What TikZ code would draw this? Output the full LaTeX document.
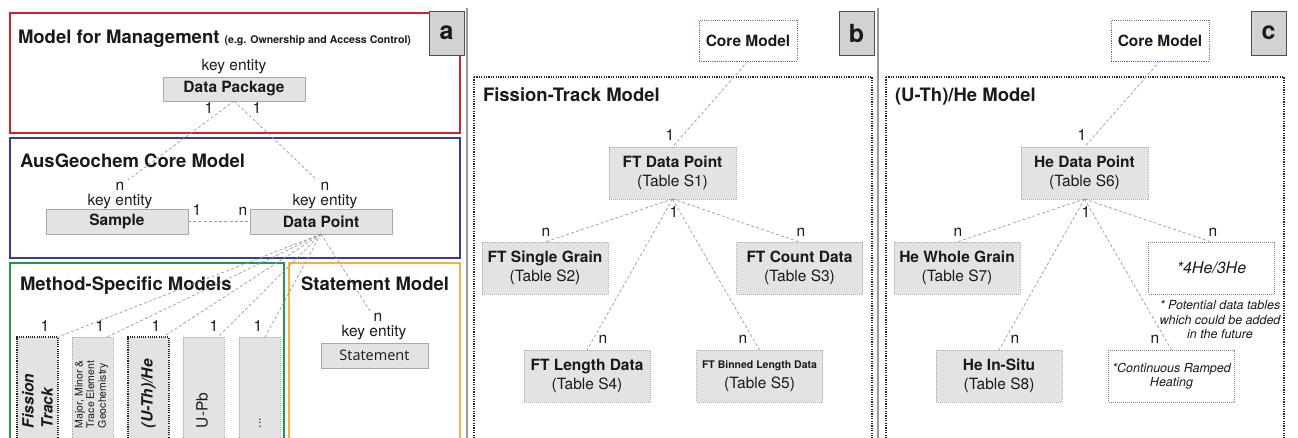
\documentclass[tikz,border=0pt]{standalone}
\usepackage{fontspec}
\setmainfont{TeX Gyre Heros}
\newfontfamily\stmtfont{Open Sans}

\definecolor{mgmtred}{HTML}{CC2229}
\definecolor{coreblue}{HTML}{3A3A9C}
\definecolor{methgreen}{HTML}{1E9A46}
\definecolor{stmtorange}{HTML}{F5B048}
\definecolor{boxfill}{HTML}{E3E3E3}
\definecolor{boxedge}{HTML}{A8A8A8}
\definecolor{linkgray}{HTML}{9A9A9A}
\definecolor{tagfill}{HTML}{D2D2D2}
\definecolor{tagedge}{HTML}{505050}
\definecolor{coremodel}{HTML}{6B5FD0}
\definecolor{inktext}{HTML}{1A1A1A}

\newcommand\FsTitle{\fontsize{18.5}{22}\selectfont\bfseries}
\newcommand\FsCard{\fontsize{15.5}{19.5}\selectfont}
\newcommand\FsNote{\fontsize{12.5}{14.5}\selectfont\itshape}

\tikzset{
  x=1pt, y=-1pt,
  every node/.style={inner sep=0pt, outer sep=0pt, text=inktext},
  boxsize/.style 2 args={minimum width=#1, minimum height=#2},
  frame/.style={line width=1.5pt},
  solidbox/.style={draw=boxedge, fill=boxfill, line width=0.8pt},
  dotbox/.style={draw=boxedge, fill=boxfill, line width=0.9pt, dash pattern=on 1pt off 1pt},
  darkdotbox/.style={draw=black!85, fill=boxfill, line width=1.1pt, dash pattern=on 1.1pt off 1.1pt},
  futurebox/.style={draw=gray, fill=white, line width=0.9pt, dash pattern=on 1pt off 1pt},
  corebox/.style={draw=coremodel, fill=white, line width=1pt, dash pattern=on 1.1pt off 1.1pt, font=\FsCard\bfseries},
  modelframe/.style={draw=black!85, line width=1.3pt, dash pattern=on 1.2pt off 1.2pt},
  link/.style={draw=linkgray, line width=0.7pt, dash pattern=on 3pt off 2.2pt},
  tag/.style={draw=tagedge, fill=tagfill, line width=1pt, boxsize={35}{44}, font=\fontsize{25}{25}\selectfont\bfseries},
  title/.style={anchor=base west, font=\FsTitle},
  lbl/.style={anchor=base, font=\FsCard},
  card/.style={align=center, font=\FsCard},
  vert/.style={rotate=90, anchor=west, align=left},
  separator/.style={draw=gray!80, line width=1.5pt}
}

\begin{document}
\begin{tikzpicture}
\useasboundingbox (0,0) rectangle (1298,437);
\clip (0,0) rectangle (1298,437);

% ---------- panel separators ----------
\draw[separator] (467,8) -- (467,440);
\draw[separator] (878,8) -- (878,440);

% ================= (a) overall model =================
\draw[frame, mgmtred]    (10,13)  rectangle (460,133);
\draw[frame, coreblue]   (10,138) rectangle (460,258);
\draw[frame, methgreen]  (10,263) rectangle (284,450);
\draw[frame, stmtorange] (289,263) rectangle (460,450);
\node[tag] (taga) at (446.5,33) {a};

% management model
\node[title] (mgmtTitle) at (18,43) {Model for Management {\fontsize{10.6}{12}\selectfont (e.g. Ownership and Access Control)}};
\node[lbl] (pkgKey) at (234,70) {key entity};
\node[solidbox, boxsize={142}{24}, font=\FsCard\bfseries] (pkg) at (234,89) {Data Package};
\node[lbl] (pkgOneL) at (209,113) {1};
\node[lbl] (pkgOneR) at (257,113) {1};

% core model
\node[title] (coreTitle) at (20,167) {AusGeochem Core Model};
\node[lbl] (sampleN) at (120,190.5) {n};
\node[lbl] (sampleKey) at (120,205) {key entity};
\node[solidbox, boxsize={142}{25}, font=\FsCard\bfseries] (sample) at (117,221.5) {Sample};
\node[lbl] (dptN) at (325,190.5) {n};
\node[lbl] (dptKey) at (325,205) {key entity};
\node[solidbox, boxsize={142}{25}, font=\FsCard\bfseries] (dpt) at (321,221.5) {Data Point};
\node[lbl] (sampleOne) at (197,215) {1};
\node[lbl] (dptNside) at (243,215) {n};

\coordinate (pkgL) at (128,180);
\coordinate (pkgR) at (315,178);
\draw[link] (pkg.south) -- (pkgL);
\draw[link] (pkg.south) -- (pkgR);
\draw[link] (sample.east) -- (dpt.west);

% method-specific models
\node[title] (methTitle) at (20,290) {Method-Specific Models};
\node[darkdotbox, boxsize={41}{108}] (m1) at (37.5,391) {};
\node[dotbox,     boxsize={41}{108}] (m2) at (92.5,391) {};
\node[darkdotbox, boxsize={41}{108}] (m3) at (148.5,391) {};
\node[dotbox,     boxsize={41}{108}] (m4) at (203.5,391) {};
\node[dotbox,     boxsize={41}{108}] (m5) at (259.5,391) {};

\node[vert, font=\fontsize{15.5}{19}\selectfont\bfseries\itshape] (t1) at (37.5,428) {Fission\\Track};
\node[vert, font=\fontsize{10.5}{11.6}\selectfont] (t2) at (91.5,428) {Major, Minor \&\\Trace Element\\Geochemistry};
\node[vert, font=\fontsize{15.5}{19}\selectfont\bfseries\itshape] (t3) at (148.5,428) {(U-Th)/He};
\node[vert, font=\fontsize{15.5}{19}\selectfont] (t4) at (202,428) {U-Pb};
\node[vert, font=\fontsize{12}{14}\selectfont] (t5) at (260,428) {...};

\node[lbl] (m1one) at (45,331) {1};
\node[lbl] (m2one) at (100,331) {1};
\node[lbl] (m3one) at (156,331) {1};
\node[lbl] (m4one) at (214,331) {1};
\node[lbl] (m5one) at (258,331) {1};

\draw[link] (dpt.south) -- (m1.north east);
\draw[link] (dpt.south) -- ([xshift=-6pt]m2.north east);
\draw[link] (dpt.south) -- ([xshift=-6pt]m3.north east);
\draw[link] (dpt.south) -- ([xshift=-6pt]m4.north east);
\draw[link] (dpt.south) -- ([xshift=-15pt]m5.north east);

% statement model
\node[title] (stmtTitle) at (301,290) {Statement Model};
\node[lbl] (stmtN) at (378,321) {n};
\node[lbl] (stmtKey) at (374,336) {key entity};
\node[solidbox, boxsize={107}{25}, font=\fontsize{14.5}{17}\stmtfont] (stmt) at (374.5,355.5) {Statement};
\coordinate (stmtEnd) at (370,311);
\draw[link] (dpt.south) -- (stmtEnd);

% ================= (b) fission-track model =================
\node[corebox, boxsize={98}{41}] (coreB) at (748,40.5) {Core Model};
\node[tag] (tagb) at (856.5,33) {b};
\draw[modelframe] (474,77) rectangle (872,450);
\node[title] (ftTitle) at (483,101) {Fission-Track Model};

\node[dotbox, card, boxsize={127}{52}] (ftdp) at (672.5,173) {\textbf{FT Data Point}\\(Table S1)};
\node[dotbox, card, boxsize={126}{52}] (ftsg) at (545,268) {\textbf{FT Single Grain}\\(Table S2)};
\node[dotbox, card, boxsize={126}{52}] (ftcd) at (799.5,268) {\textbf{FT Count Data}\\(Table S3)};
\node[dotbox, card, boxsize={126}{52}] (ftld) at (587,376) {\textbf{FT Length Data}\\(Table S4)};
\node[dotbox, card, boxsize={126}{52}] (ftbl) at (759.5,376) {{\fontsize{10.5}{12}\selectfont\bfseries FT Binned Length Data}\\(Table S5)};

\node[lbl] (ftOneTop) at (670,140) {1};
\node[lbl] (ftOneBot) at (674,217) {1};
\node[lbl] (ftsgN) at (546,236) {n};
\node[lbl] (ftcdN) at (801,236) {n};
\node[lbl] (ftldN) at (603,343) {n};
\node[lbl] (ftblN) at (743,343) {n};

\draw[link] (coreB.south) -- (ftdp.north);
\draw[link] (ftdp.south) -- (ftsg.north);
\draw[link] (ftdp.south) -- (ftcd.north);
\draw[link] (ftdp.south) -- (ftld.north);
\draw[link] (ftdp.south) -- (ftbl.north);

% ================= (c) (U-Th)/He model =================
\node[corebox, boxsize={98}{41}] (coreC) at (1160,40.5) {Core Model};
\node[tag] (tagc) at (1268.5,33) {c};
\draw[modelframe] (886,77) rectangle (1284,450);
\node[title] (heTitle) at (895,101) {(U-Th)/He Model};

\node[dotbox, card, boxsize={127}{52}] (hedp) at (1084.5,173) {\textbf{He Data Point}\\(Table S6)};
\node[dotbox, card, boxsize={126}{52}] (hewg) at (957,268) {\textbf{He Whole Grain}\\(Table S7)};
\node[futurebox, boxsize={126}{52}, font=\fontsize{16}{19}\selectfont\itshape] (hefh) at (1211.5,268) {*4He/3He};
\node[dotbox, card, boxsize={126}{52}] (heis) at (999,376) {\textbf{He In-Situ}\\(Table S8)};
\node[futurebox, align=center, boxsize={126}{52}, font=\FsNote] (herh) at (1171.5,376) {*Continuous Ramped\\Heating};

\node[align=center, font=\FsNote] (heNote) at (1220,320) {* Potential data tables\\which could be added\\in the future};

\node[lbl] (heOneTop) at (1082,140) {1};
\node[lbl] (heOneBot) at (1086,217) {1};
\node[lbl] (hewgN) at (958,236) {n};
\node[lbl] (hefhN) at (1213,236) {n};
\node[lbl] (heisN) at (1015,343) {n};
\node[lbl] (herhN) at (1155,343) {n};

\draw[link] (coreC.south) -- (hedp.north);
\draw[link] (hedp.south) -- (hewg.north);
\draw[link] (hedp.south) -- (hefh.north);
\draw[link] (hedp.south) -- (heis.north);
\draw[link] (hedp.south) -- (herh.north);

\end{tikzpicture}
\end{document}
